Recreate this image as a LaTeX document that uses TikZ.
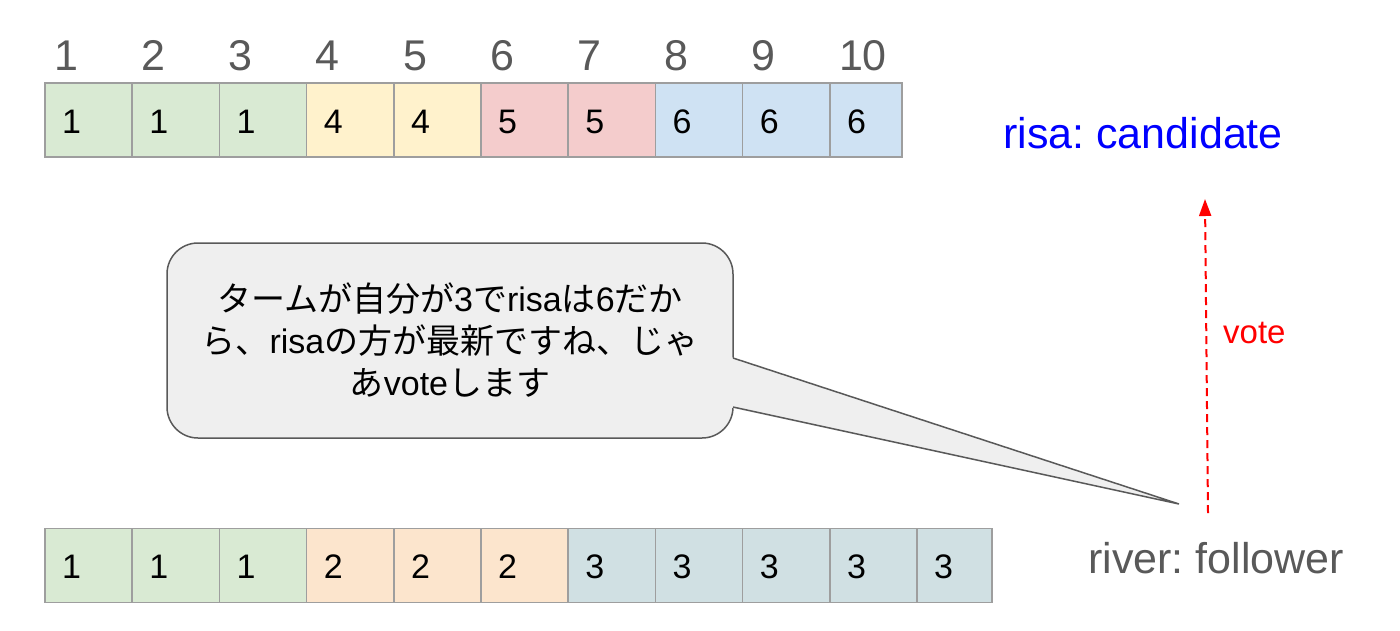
\documentclass[tikz,border=0pt]{standalone}
\usepackage{fontspec}
\setmainfont{Liberation Sans}
\newfontfamily\cjk{Noto Sans CJK JP}
\usetikzlibrary{arrows.meta}
\frenchspacing
\definecolor{cgreen}{HTML}{D9EAD3}
\definecolor{cyellow}{HTML}{FFF2CC}
\definecolor{cred}{HTML}{F4CCCC}
\definecolor{cblue}{HTML}{CFE2F3}
\definecolor{corange}{HTML}{FCE5CD}
\definecolor{cteal}{HTML}{D0E0E3}
\definecolor{cborder}{HTML}{9E9E9E}
\definecolor{tgray}{HTML}{595959}
\definecolor{bubblefill}{HTML}{EFEFEF}
\definecolor{bubbleline}{HTML}{595959}
\tikzset{
  cell/.style={draw=cborder, line width=1.5pt, minimum height=74pt, inner sep=0pt, rectangle},
  celltext/.style={anchor=base west, inner sep=0pt, font=\fontsize{34}{34}\selectfont, text=black},
  idxtext/.style={anchor=base west, inner sep=0pt, font=\fontsize{43}{43}\selectfont, text=tgray},
  bigtext/.style={anchor=base west, inner sep=0pt, font=\fontsize{43}{43}\selectfont},
  bubble/.style={draw=bubbleline, fill=bubblefill, line width=1.5pt, rounded corners=31pt,
    minimum width=566pt, minimum height=195pt, align=center, inner sep=0pt,
    font=\fontsize{34}{42}\selectfont},
  tail/.style={draw=bubbleline, line width=1.5pt, line join=miter},
  votearrow/.style={draw=red, line width=2pt, dash pattern=on 8pt off 5pt,
    -{Triangle[length=17pt,width=12pt]}},
}
\begin{document}
\begin{tikzpicture}[x=1pt,y=-1pt]
\useasboundingbox[fill=white] (0,0) rectangle (1400,630);
% top row
\foreach \i/\v/\c in {0/1/cgreen,1/1/cgreen,2/1/cgreen,3/4/cyellow,4/4/cyellow,5/5/cred,6/5/cred,7/6/cblue,8/6/cblue}{
  \node[cell, fill=\c, minimum width=87.2pt] (t\i) at ({45+87.2*\i+43.6},120) {};
  \node[celltext] (tv\i) at ({45+87.2*\i+17},133) {\v};
}
\node[cell, fill=cblue, minimum width=72.2pt] (t9) at ({829.8+36.1},120) {};
\node[celltext] (tv9) at ({829.8+17},133) {6};
\foreach \i [evaluate=\i as \n using int(\i+1)] in {0,...,9}{
  \node[idxtext] (idx\i) at ({45+87.2*\i+9},70) {\n};
}
% bottom row
\foreach \i/\v/\c in {0/1/cgreen,1/1/cgreen,2/1/cgreen,3/2/corange,4/2/corange,5/2/corange,6/3/cteal,7/3/cteal,8/3/cteal,9/3/cteal}{
  \node[cell, fill=\c, minimum width=87.2pt] (b\i) at ({45+87.2*\i+43.6},565.5) {};
  \node[celltext] (bv\i) at ({45+87.2*\i+17},578) {\v};
}
\node[cell, fill=cteal, minimum width=75pt] (b10) at ({917+37.5},565.5) {};
\node[celltext] (bv10) at ({917+17},578) {3};
% speech bubble
\node[bubble] (bubble) at (450,340.5) {{\cjk タームが自分が}3{\cjk で}risa{\cjk は}6{\cjk だか}\\{\cjk ら、}risa{\cjk の方が最新ですね、じゃ}\\{\cjk あ}vote{\cjk します}};
\coordinate (tailtop) at (733,358);
\coordinate (tailbot) at (733,407);
\coordinate (tailtip) at (1179,504);
\fill[bubblefill] (730.5,357) -- (tailtip) -- (730.5,407.5) -- cycle;
\draw[tail] (tailtop) -- (tailtip) -- (tailbot);
% labels
\node[bigtext, text=blue] (risa) at (1003,148) {risa: candidate};
\node[bigtext, text=tgray] (river) at (1088,573) {river: follower};
\coordinate (vstart) at (1208,513);
\coordinate (vend) at (1205,199);
\draw[votearrow] (vstart) -- (vend);
\node[anchor=base west, inner sep=0pt, font=\fontsize{33}{33}\selectfont, text=red] (vote) at (1223,343) {vote};
\end{tikzpicture}
\end{document}
